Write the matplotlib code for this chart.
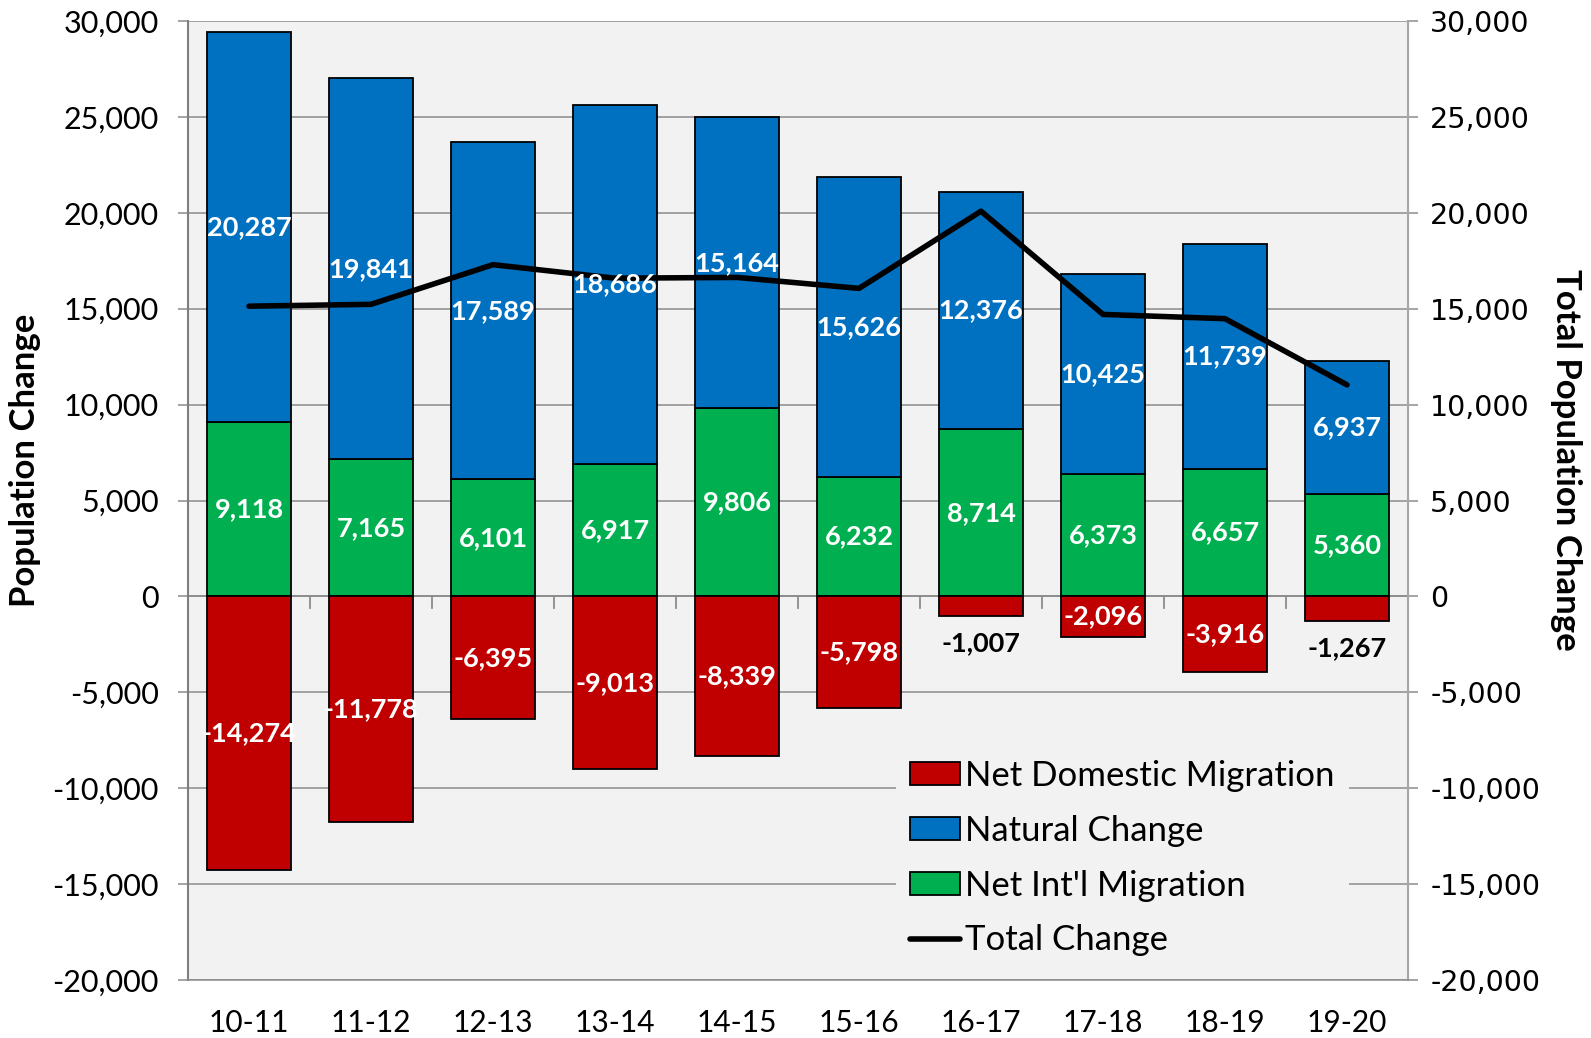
import matplotlib
matplotlib.use("Agg")
import matplotlib.pyplot as plt
import numpy as np
from matplotlib.patches import Patch
from matplotlib.lines import Line2D

plt.rcParams['font.family'] = ['Lato', 'DejaVu Sans']

years = ["10-11", "11-12", "12-13", "13-14", "14-15", "15-16", "16-17", "17-18", "18-19", "19-20"]
natural = [20287, 19841, 17589, 18686, 15164, 15626, 12376, 10425, 11739, 6937]
intl = [9118, 7165, 6101, 6917, 9806, 6232, 8714, 6373, 6657, 5360]
domestic = [-14274, -11778, -6395, -9013, -8339, -5798, -1007, -2096, -3916, -1267]
total = [n + i + d for n, i, d in zip(natural, intl, domestic)]
yticks = list(range(-20000, 30001, 5000))

BLUE = "#0070C0"
GREEN = "#00B050"
RED = "#C00000"
BG = "#F2F2F2"
GRID = "#8C8C8C"

fig = plt.figure(figsize=(15.91, 10.38), dpi=100)
ax = fig.add_axes([188/1591, 1 - 980/1038, 1220/1591, (980-21)/1038])
ax.set_facecolor(BG)
x = np.arange(len(years))
w = 0.69

ax.bar(x, intl, w, color=GREEN, edgecolor="black", linewidth=1.3, zorder=3)
ax.bar(x, natural, w, bottom=intl, color=BLUE, edgecolor="black", linewidth=1.3, zorder=3)
ax.bar(x, domestic, w, color=RED, edgecolor="black", linewidth=1.3, zorder=3)

ax.set_ylim(-20000, 30000)
ax.set_xlim(-0.5, len(years) - 0.5)
ax.set_yticks(yticks)
ax.set_yticklabels([f"{v:,}" for v in yticks], fontsize=22)
ax.yaxis.grid(True, color=GRID, linewidth=1.1, zorder=0)
ax.set_axisbelow(True)
ax.axhline(0, color=GRID, linewidth=1.3, zorder=2)
for i in range(len(years) - 1):
    ax.plot([x[i] + 0.5, x[i] + 0.5], [0, -600], color=GRID, linewidth=1.3, zorder=2)
ax.set_xticks(x)
ax.set_xticklabels(years, fontsize=21.5)
ax.tick_params(axis="x", length=0, pad=21)
ax.tick_params(axis="y", length=7, color=GRID, width=1.1, pad=14)
for s in ["top", "bottom"]:
    ax.spines[s].set_visible(False)
ax.spines["left"].set_color("#7F7F7F")
ax.spines["left"].set_linewidth(1.5)
ax.spines["right"].set_color("#A6A6A6")
ax.set_ylabel("Population Change", fontsize=25, fontweight="bold", labelpad=8)
ax.yaxis.label.set_y(0.542)

ax2 = ax.twinx()
ax2.plot(x, total, color="black", linewidth=4, solid_capstyle="round", zorder=5)
ax2.set_ylim(-20000, 30000)
ax2.set_yticks(yticks)
ax2.set_yticklabels([f"{v:,}" for v in yticks], fontsize=20.5, family="DejaVu Sans")
ax2.tick_params(axis="y", length=7, color=GRID, width=1.1, pad=9)
for s in ["top", "left"]:
    ax2.spines[s].set_visible(False)
ax2.spines["bottom"].set_color(GRID)
ax2.spines["bottom"].set_linewidth(1.1)
ax2.spines["bottom"].set_zorder(10)
ax2.tick_params(axis="x", length=0, labelbottom=False)
ax2.spines["right"].set_color("#A6A6A6")
ax2.spines["right"].set_linewidth(1.5)
ax2.set_ylabel("Total Population Change", fontsize=25, fontweight="bold", rotation=270, labelpad=30)
ax2.yaxis.label.set_y(0.542)

lblkw = dict(ha="center", va="center", fontsize=19.5, fontweight="bold", zorder=6)
for i in range(len(years)):
    ax2.text(x[i], intl[i] + natural[i] / 2, f"{natural[i]:,}", color="white", **lblkw)
    ax2.text(x[i], intl[i] / 2, f"{intl[i]:,}", color="white", **lblkw)
    if abs(domestic[i]) >= 1500:
        ax2.text(x[i], domestic[i] / 2, f"{domestic[i]:,}", color="white", **lblkw)
    else:
        ax2.annotate(f"{domestic[i]:,}", (x[i], domestic[i]), xytext=(0, -20),
                     textcoords="offset points", color="black", **lblkw)

handles = [Patch(facecolor=RED, edgecolor="black", linewidth=1.3),
           Patch(facecolor=BLUE, edgecolor="black", linewidth=1.3),
           Patch(facecolor=GREEN, edgecolor="black", linewidth=1.3),
           Line2D([0], [0], color="black", linewidth=4, solid_capstyle="round")]
labels = ["Net Domestic Migration", "Natural Change", "Net Int'l Migration", "Total Change"]
leg = ax2.legend(handles, labels, loc="lower left", bbox_to_anchor=(0.566, -0.008),
                 fontsize=25, frameon=True, facecolor=BG, edgecolor="none", framealpha=1,
                 fancybox=False, handlelength=1.45, handleheight=0.65, handletextpad=0.15,
                 labelspacing=0.66, borderpad=0.4)

fig.savefig("out.png", dpi=100, facecolor="white")
